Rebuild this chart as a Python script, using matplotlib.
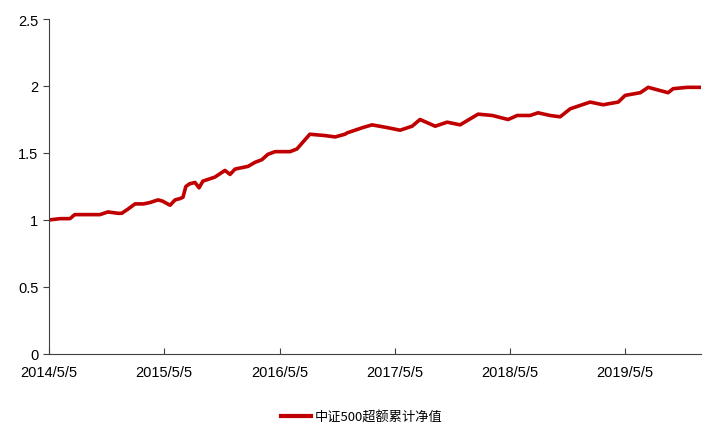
import numpy as np
import pandas as pd
import matplotlib
matplotlib.use('Agg')
import matplotlib.pyplot as plt

plt.rcParams['font.family'] = ['Liberation Sans', 'Noto Sans CJK SC', 'DejaVu Sans']

dates = ['2014-05-05', '2014-06-10', '2014-07-11', '2014-07-26', '2014-09-01', '2014-10-14',
         '2014-11-08', '2014-12-10', '2014-12-22', '2015-01-10', '2015-02-02', '2015-03-01',
         '2015-03-21', '2015-04-16', '2015-05-01', '2015-05-24', '2015-06-09', '2015-06-25',
         '2015-07-04', '2015-07-13', '2015-07-25', '2015-08-11', '2015-08-24', '2015-09-05',
         '2015-10-13', '2015-11-14', '2015-11-30', '2015-12-16', '2016-01-26', '2016-02-17',
         '2016-03-10', '2016-03-29', '2016-04-21', '2016-06-07', '2016-06-29', '2016-07-25',
         '2016-08-09', '2016-09-26', '2016-10-28', '2016-11-28', '2016-12-05', '2017-01-24',
         '2017-02-22', '2017-04-10', '2017-05-22', '2017-06-29', '2017-07-24', '2017-09-10',
         '2017-10-18', '2017-11-28', '2018-01-24', '2018-03-10', '2018-04-29', '2018-05-28',
         '2018-07-08', '2018-08-02', '2018-09-09', '2018-10-11', '2018-11-12', '2019-01-14',
         '2019-02-24', '2019-04-13', '2019-05-05', '2019-06-22', '2019-07-17', '2019-09-18',
         '2019-10-04', '2019-11-18', '2019-12-29']
nav = [1.00, 1.01, 1.01, 1.04, 1.04, 1.04,
       1.06, 1.05, 1.05, 1.08, 1.12, 1.12,
       1.13, 1.15, 1.14, 1.11, 1.15, 1.16,
       1.17, 1.25, 1.27, 1.28, 1.24, 1.29,
       1.32, 1.37, 1.34, 1.38, 1.40, 1.43,
       1.45, 1.49, 1.51, 1.51, 1.53, 1.60,
       1.64, 1.63, 1.62, 1.64, 1.65, 1.69,
       1.71, 1.69, 1.67, 1.70, 1.75, 1.70,
       1.73, 1.71, 1.79, 1.78, 1.75, 1.78,
       1.78, 1.80, 1.78, 1.77, 1.83, 1.88,
       1.86, 1.88, 1.93, 1.95, 1.99, 1.95,
       1.98, 1.99, 1.99]
tick_dates = ['2014-05-05', '2015-05-05', '2016-05-05', '2017-05-05', '2018-05-05', '2019-05-05']
tick_labels = ['2014/5/5', '2015/5/5', '2016/5/5', '2017/5/5', '2018/5/5', '2019/5/5']

x = pd.to_datetime(dates)

fig = plt.figure(figsize=(7.08, 4.35), dpi=100)
ax = fig.add_axes([0.069, 0.184, 0.921, 0.770])
ax.plot(x, nav, color='#C00000', lw=2.6, label='中证500超额累计净值')

ax.set_ylim(0, 2.5)
ax.set_yticks([0, 0.5, 1, 1.5, 2, 2.5])
ax.set_yticklabels(['0', '0.5', '1', '1.5', '2', '2.5'])
ax.set_xlim(pd.Timestamp('2014-05-05'), pd.Timestamp('2019-12-31'))
ax.set_xticks(pd.to_datetime(tick_dates))
ax.set_xticklabels(tick_labels, family=['Liberation Sans Narrow', 'Liberation Sans'], fontsize=10.5)

for s in ['top', 'right']:
    ax.spines[s].set_visible(False)
for s in ['left', 'bottom']:
    ax.spines[s].set_color('#404040')
    ax.spines[s].set_linewidth(0.8)
ax.tick_params(axis='x', direction='in', length=4, color='#404040', pad=8)
ax.tick_params(axis='y', direction='out', length=4, color='#404040', labelsize=10.5)

leg = ax.legend(loc='center', bbox_to_anchor=(0.48, -0.188), frameon=False,
                handlelength=2.2, handletextpad=0.3,
                prop={'family': ['Noto Sans CJK SC', 'DejaVu Sans'], 'size': 9.5})
for h in leg.get_lines():
    h.set_color('#C00000')
    h.set_linewidth(3)

fig.savefig('out.png', dpi=100)
